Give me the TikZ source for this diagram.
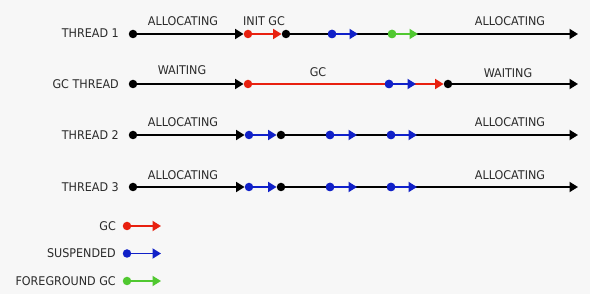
\documentclass[tikz,border=0pt]{standalone}
\usepackage{fontspec}
\setmainfont[FakeStretch=0.93]{DejaVu Sans}
\usetikzlibrary{arrows.meta}
\definecolor{bg}{HTML}{F7F7F7}
\definecolor{gcred}{HTML}{E8200F}
\definecolor{susblue}{HTML}{1020C8}
\definecolor{fggreen}{HTML}{50C830}
\definecolor{txt}{HTML}{2A2A2A}
\tikzset{
  tdot/.style={circle, inner sep=0pt, minimum size=8.5pt, fill=#1},
  seg/.style={line width=1.9pt, draw=#1, -{Triangle[length=8.5pt,width=10pt]}},
  lbl/.style={font=\fontsize{12}{14}\selectfont, text=txt, inner sep=0pt},
}
\begin{document}
\begin{tikzpicture}[x=1pt,y=-1pt]
\fill[bg] (0,0) rectangle (590,294);
\useasboundingbox (0,0) rectangle (590,294);

% ---------- THREAD 1 ----------
\node[lbl, anchor=east] (l1) at (119,33.5) {THREAD 1};
\node[tdot=black] (a1) at (133,34) {};
\node[tdot=gcred] (a2) at (248,34) {};
\node[tdot=black] (a3) at (286,34) {};
\node[tdot=susblue] (a4) at (332,34) {};
\coordinate (a4e) at (358,34);
\node[tdot=fggreen] (a5) at (392,34) {};
\coordinate (a5e) at (418,34);
\coordinate (a6) at (578,34);
\draw[seg=black] (a1) -- (a2);
\draw[seg=gcred] (a2) -- (a3);
\draw[seg=black] (a3) -- (a6);
\draw[seg=susblue] (a4) -- (a4e);
\draw[seg=fggreen] (a5) -- (a5e);
\node[tdot=susblue] at (a4) {};
\node[tdot=fggreen] at (a5) {};
\node[lbl] (t1a) at (183,21) {ALLOCATING};
\node[lbl] (t1b) at (264,21) {INIT GC};
\node[lbl] (t1c) at (510,21) {ALLOCATING};

% ---------- GC THREAD ----------
\node[lbl, anchor=east] (l2) at (119,84) {GC THREAD};
\node[tdot=black] (b1) at (133,84) {};
\node[tdot=gcred] (b2) at (248,84) {};
\node[tdot=susblue] (b3) at (389,84) {};
\coordinate (b3e) at (416,84);
\node[tdot=black] (b4) at (448,84) {};
\coordinate (b5) at (578,84);
\draw[seg=black] (b1) -- (b2);
\draw[seg=gcred] (b2) -- (b4);
\draw[seg=susblue] (b3) -- (b3e);
\node[tdot=susblue] at (b3) {};
\draw[seg=black] (b4) -- (b5);
\node[lbl] (t2a) at (182,70) {WAITING};
\node[lbl] (t2b) at (318,72) {GC};
\node[lbl] (t2c) at (508,73) {WAITING};

% ---------- THREAD 2 ----------
\node[lbl, anchor=east] (l3) at (119,135) {THREAD 2};
\node[tdot=black] (c1) at (133,135) {};
\node[tdot=susblue] (c2) at (249,135) {};
\node[tdot=black] (c3) at (281,135) {};
\node[tdot=susblue] (c4) at (330,135) {};
\coordinate (c4e) at (357,135);
\node[tdot=susblue] (c5) at (391,135) {};
\coordinate (c5e) at (417,135);
\coordinate (c6) at (578,135);
\draw[seg=black] (c1) -- (c2);
\draw[seg=susblue] (c2) -- (c3);
\draw[seg=black] (c3) -- (c6);
\draw[seg=susblue] (c4) -- (c4e);
\draw[seg=susblue] (c5) -- (c5e);
\node[tdot=susblue] at (c4) {};
\node[tdot=susblue] at (c5) {};
\node[lbl] (t3a) at (183,122) {ALLOCATING};
\node[lbl] (t3c) at (510,122) {ALLOCATING};

% ---------- THREAD 3 ----------
\node[lbl, anchor=east] (l4) at (119,187) {THREAD 3};
\node[tdot=black] (d1) at (133,187) {};
\node[tdot=susblue] (d2) at (249,187) {};
\node[tdot=black] (d3) at (281,187) {};
\node[tdot=susblue] (d4) at (330,187) {};
\coordinate (d4e) at (357,187);
\node[tdot=susblue] (d5) at (391,187) {};
\coordinate (d5e) at (417,187);
\coordinate (d6) at (578,187);
\draw[seg=black] (d1) -- (d2);
\draw[seg=susblue] (d2) -- (d3);
\draw[seg=black] (d3) -- (d6);
\draw[seg=susblue] (d4) -- (d4e);
\draw[seg=susblue] (d5) -- (d5e);
\node[tdot=susblue] at (d4) {};
\node[tdot=susblue] at (d5) {};
\node[lbl] (t4a) at (183,175) {ALLOCATING};
\node[lbl] (t4c) at (510,175) {ALLOCATING};

% ---------- LEGEND ----------
\node[lbl, anchor=east] (g1) at (116,226) {GC};
\node[tdot=gcred] (g1d) at (127,226) {};
\coordinate (g1e) at (161,226);
\draw[seg=gcred] (g1d) -- (g1e);

\node[lbl, anchor=east] (g2) at (116,253.5) {SUSPENDED};
\node[tdot=susblue] (g2d) at (127,253.5) {};
\coordinate (g2e) at (161,253.5);
\draw[seg=susblue] (g2d) -- (g2e);

\node[lbl, anchor=east] (g3) at (116,281) {FOREGROUND GC};
\node[tdot=fggreen] (g3d) at (127,281) {};
\coordinate (g3e) at (161,281);
\draw[seg=fggreen] (g3d) -- (g3e);
\end{tikzpicture}
\end{document}
